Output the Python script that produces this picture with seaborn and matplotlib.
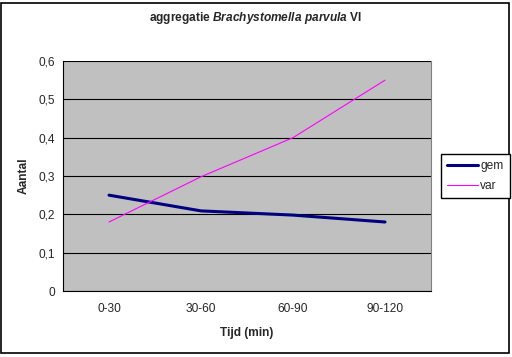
import matplotlib
matplotlib.use("Agg")
import matplotlib.pyplot as plt
from matplotlib.patches import Rectangle
from matplotlib.ticker import FixedLocator, FuncFormatter
import pandas as pd
import seaborn as sns

sns.set_style("white")
plt.rcParams["font.family"] = ["Liberation Sans", "DejaVu Sans"]
plt.rcParams["mathtext.fontset"] = "custom"
plt.rcParams["mathtext.it"] = "Liberation Sans:bold:italic"
plt.rcParams["mathtext.rm"] = "Liberation Sans:bold"

# data
categories = ["0-30", "30-60", "60-90", "90-120"]
gem = [0.25, 0.209, 0.198, 0.18]
var = [0.18, 0.298, 0.40, 0.55]

df = pd.DataFrame({
    "tijd": categories * 2,
    "waarde": gem + var,
    "reeks": ["gem"] * len(gem) + ["var"] * len(var),
})
df["pos"] = list(range(len(categories))) * 2

fs = 8.6

fig = plt.figure(figsize=(5.12, 3.57), dpi=100)
ax = fig.add_axes([63 / 512, 1 - 291 / 357, 368 / 512, 230 / 357])
ax.set_facecolor("#c0c0c0")

sns.lineplot(
    data=df, x="pos", y="waarde", hue="reeks",
    palette={"gem": "#000080", "var": "#ff00ff"},
    ax=ax, legend=False,
)
for line, lw in zip(ax.get_lines(), [2.2, 0.8]):
    line.set_linewidth(lw)

ax.set_xlim(-0.5, len(categories) - 0.5)
ax.set_ylim(0, 0.6)
ax.set_yticks([0, 0.1, 0.2, 0.3, 0.4, 0.5, 0.6])
ax.yaxis.set_major_formatter(FuncFormatter(lambda v, p: f"{v:.1f}".replace(".", ",") if v else "0"))
ax.set_xticks(range(len(categories)))
ax.set_xticklabels(categories)
ax.xaxis.set_minor_locator(FixedLocator([i - 0.5 for i in range(len(categories) + 1)]))
ax.tick_params(axis="x", which="major", length=0, pad=9, labelsize=fs)
ax.tick_params(axis="x", which="minor", length=3, direction="out", color="black")
ax.tick_params(axis="y", length=3, direction="out", color="black", labelsize=fs, pad=3)
ax.grid(axis="y", color="black", linewidth=0.8)
ax.set_axisbelow(True)

for side in ["left", "bottom"]:
    ax.spines[side].set_color("black")
    ax.spines[side].set_linewidth(0.8)
ax.spines["top"].set_visible(False)
ax.spines["right"].set_color("#808080")
ax.spines["right"].set_linewidth(0.8)

ax.set_xlabel("Tijd (min)", fontsize=fs, fontweight="bold", labelpad=8)
ax.set_ylabel("Aantal", fontsize=fs, fontweight="bold", labelpad=6)

fig.text(0.5, 1 - 18 / 357, r"aggregatie $Brachystomella\ parvula$ VI",
         ha="center", va="center", fontsize=fs, fontweight="bold")

handles = [plt.Line2D([], [], color="#000080", lw=2.2),
           plt.Line2D([], [], color="#ff00ff", lw=0.8)]
fig.legend(handles, ["gem", "var"], loc="center left",
           bbox_to_anchor=(441 / 512, 1 - 176 / 357), fontsize=fs,
           frameon=True, fancybox=False, edgecolor="black", framealpha=1,
           handlelength=2.6, handletextpad=0.2, borderpad=0.5, labelspacing=0.7,
           borderaxespad=0)

fig.patches.append(Rectangle((1 / 512, 4 / 357), 508 / 512, 350 / 357,
                             transform=fig.transFigure, fill=False,
                             edgecolor="black", linewidth=1.2))

fig.savefig("out.png", dpi=100)
